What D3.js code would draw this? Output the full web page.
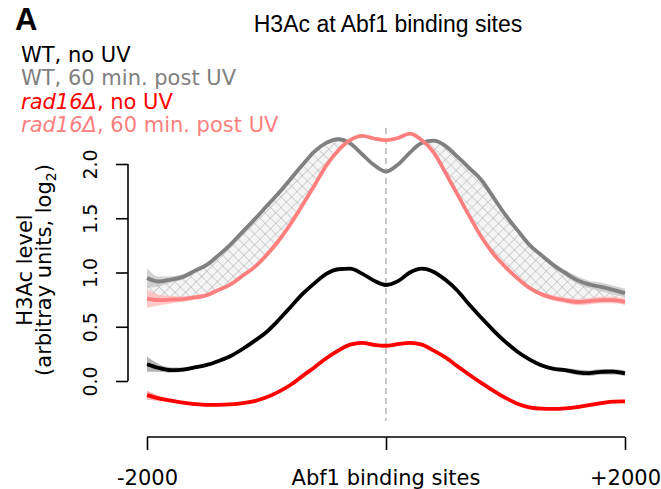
<!DOCTYPE html>
<html>
<head>
<meta charset="utf-8">
<script src="https://cdn.jsdelivr.net/npm/d3@7/dist/d3.min.js"></script>
<style>
  html, body { margin: 0; padding: 0; background: #fff; }
  svg { display: block; }
</style>
</head>
<body>
<svg id="chart" width="661" height="489"></svg>
<script>
// ---- data ----
const positions = [-2000,-1900,-1800,-1700,-1600,-1500,-1400,-1300,-1200,-1100,-1000,-900,-800,-700,-600,-500,-400,-300,-200,-100,0,100,200,300,400,500,600,700,800,900,1000,1100,1200,1300,1400,1500,1600,1700,1800,1900,2000];

const wtNoUV = [0.155,0.12,0.10,0.105,0.125,0.148,0.185,0.23,0.295,0.37,0.452,0.56,0.68,0.80,0.90,0.987,1.03,1.035,0.99,0.925,0.885,0.92,1.00,1.035,1.005,0.93,0.83,0.70,0.58,0.465,0.36,0.27,0.20,0.145,0.113,0.10,0.08,0.072,0.085,0.086,0.07];
const wtUV = [0.95,0.917,0.935,0.96,1.015,1.07,1.16,1.26,1.375,1.49,1.61,1.73,1.86,1.99,2.115,2.195,2.228,2.19,2.09,1.99,1.93,1.995,2.105,2.195,2.215,2.165,2.065,1.96,1.85,1.69,1.53,1.39,1.255,1.16,1.07,0.996,0.93,0.89,0.867,0.84,0.81];
const radNoUV = [-0.13,-0.16,-0.18,-0.20,-0.213,-0.22,-0.22,-0.216,-0.205,-0.185,-0.15,-0.10,-0.037,0.045,0.125,0.21,0.28,0.335,0.352,0.333,0.325,0.34,0.352,0.335,0.28,0.215,0.135,0.055,-0.02,-0.09,-0.155,-0.21,-0.243,-0.255,-0.257,-0.252,-0.24,-0.222,-0.205,-0.19,-0.188];
const radUV = [0.76,0.746,0.75,0.755,0.77,0.79,0.84,0.89,0.97,1.05,1.16,1.29,1.445,1.62,1.80,1.985,2.125,2.22,2.26,2.235,2.22,2.24,2.28,2.22,2.105,1.915,1.715,1.515,1.325,1.17,1.05,0.946,0.858,0.80,0.765,0.744,0.728,0.735,0.746,0.746,0.73];

// half-widths of the confidence bands
const wtNoUVErr = [0.07,0.035,0.025,0.02,0.015,0.015,0.015,0.015,0.015,0.015,0.015,0.015,0.015,0.015,0.015,0.015,0.015,0.015,0.015,0.015,0.015,0.015,0.015,0.015,0.015,0.015,0.015,0.015,0.015,0.015,0.015,0.015,0.015,0.018,0.02,0.02,0.025,0.025,0.025,0.025,0.025];
const wtUVErr = [0.09,0.045,0.03,0.025,0.02,0.02,0.018,0.015,0.015,0.015,0.015,0.015,0.015,0.015,0.015,0.015,0.015,0.015,0.015,0.015,0.015,0.015,0.015,0.015,0.015,0.015,0.015,0.015,0.015,0.015,0.015,0.018,0.02,0.02,0.025,0.03,0.035,0.035,0.04,0.04,0.04];
const radNoUVErr = [0.04,0.025,0.015,0.012,0.012,0.012,0.012,0.012,0.012,0.012,0.012,0.012,0.012,0.012,0.012,0.012,0.012,0.012,0.012,0.012,0.012,0.012,0.012,0.012,0.012,0.012,0.012,0.012,0.012,0.012,0.012,0.012,0.012,0.012,0.012,0.012,0.015,0.015,0.015,0.015,0.015];
const radUVErr = [0.085,0.05,0.035,0.025,0.02,0.018,0.015,0.015,0.015,0.015,0.015,0.015,0.015,0.015,0.015,0.015,0.015,0.015,0.015,0.015,0.015,0.015,0.015,0.015,0.015,0.015,0.015,0.015,0.015,0.015,0.015,0.015,0.018,0.02,0.025,0.025,0.03,0.03,0.03,0.03,0.03];

const seriesNames = ["WT, no UV", "WT, 60 min. post UV", "rad16\u0394, no UV", "rad16\u0394, 60 min. post UV"];
const seriesColors = ["#000000", "#808080", "#ff0000", "#ff7f7f"];
const bandColors = ["#9a9a9a", "#c4c4c4", "#ff9a9a", "#ffb8b8"];
const yTicks = [0, 0.5, 1.0, 1.5, 2.0];
const xTickValues = [-2000, 0, 2000];
const xTickLabels = ["-2000", "", "+2000"];

// ---- chart ----
const svg = d3.select("#chart");
const x = d3.scaleLinear().domain([-2000, 2000]).range([147, 625]);
const y = d3.scaleLinear().domain([0, 2]).range([381, 164]);

const defs = svg.append("defs");
const pat = defs.append("pattern")
  .attr("id", "hatch").attr("patternUnits", "userSpaceOnUse")
  .attr("width", 7.5).attr("height", 7.5)
  .attr("patternTransform", "rotate(45)");
pat.append("rect").attr("width", 7.5).attr("height", 7.5).attr("fill", "#f4f4f4");
pat.append("line").attr("x1", 0).attr("y1", 0).attr("x2", 0).attr("y2", 7.5).attr("stroke", "#9c9c9c").attr("stroke-width", 0.8);
pat.append("line").attr("x1", 0).attr("y1", 0).attr("x2", 7.5).attr("y2", 0).attr("stroke", "#9c9c9c").attr("stroke-width", 0.8);

// hatched region where WT post UV > rad16 post UV
const hatchData = positions.map((p, i) => ({p, lo: radUV[i], hi: Math.max(wtUV[i], radUV[i])}));
svg.append("path")
  .datum(hatchData)
  .attr("d", d3.area().x(d => x(d.p)).y0(d => y(d.lo)).y1(d => y(d.hi)).curve(d3.curveMonotoneX))
  .attr("fill", "url(#hatch)");

// dashed center line
svg.append("line")
  .attr("x1", x(0)).attr("x2", x(0))
  .attr("y1", 128).attr("y2", 421)
  .attr("stroke", "#bbbbbb").attr("stroke-width", 1.6)
  .attr("stroke-dasharray", "6,4");

const series = [
  {vals: wtNoUV, err: wtNoUVErr},
  {vals: wtUV, err: wtUVErr},
  {vals: radNoUV, err: radNoUVErr},
  {vals: radUV, err: radUVErr}
];

series.forEach((s, k) => {
  const d = positions.map((p, i) => ({p, v: s.vals[i], e: s.err[i]}));
  svg.append("path").datum(d)
    .attr("d", d3.area().x(q => x(q.p)).y0(q => y(q.v - q.e)).y1(q => y(q.v + q.e)).curve(d3.curveMonotoneX))
    .attr("fill", bandColors[k]).attr("opacity", 0.75);
});
series.forEach((s, k) => {
  const d = positions.map((p, i) => ({p, v: s.vals[i]}));
  svg.append("path").datum(d)
    .attr("d", d3.line().x(q => x(q.p)).y(q => y(q.v)).curve(d3.curveMonotoneX))
    .attr("fill", "none").attr("stroke", seriesColors[k])
    .attr("stroke-width", 3.8).attr("stroke-linejoin", "round").attr("stroke-linecap", "butt");
});

// y axis
const yAxis = svg.append("g").attr("transform", "translate(128,0)")
  .call(d3.axisLeft(y).tickValues(yTicks).tickSize(12).tickFormat(d3.format(".1f")));
yAxis.select(".domain").attr("stroke-width", 1.6).attr("d", `M0,${y(2)}V${y(0)}`);
yAxis.selectAll(".tick line").attr("stroke-width", 1.6);
yAxis.selectAll(".tick text")
  .attr("x", null).attr("dy", null)
  .attr("transform", "translate(-31,0) rotate(-90)")
  .attr("text-anchor", "middle")
  .attr("font-family", "DejaVu Sans").attr("font-size", 19).attr("fill", "#000");

// x axis
const xAxis = svg.append("g").attr("transform", "translate(0,437)")
  .call(d3.axisBottom(x).tickValues(xTickValues).tickSize(13).tickFormat((d, i) => xTickLabels[i]));
xAxis.select(".domain").attr("d", `M${x(-2000)},0H${x(2000)}`).attr("stroke-width", 1.6);
xAxis.selectAll(".tick line").attr("stroke-width", 1.6);
xAxis.selectAll(".tick text")
  .attr("y", 48).attr("dy", null)
  .attr("font-family", "DejaVu Sans").attr("font-size", 21).attr("fill", "#000");

svg.append("text").attr("x", x(0)).attr("y", 485)
  .attr("text-anchor", "middle").attr("font-family", "DejaVu Sans").attr("font-size", 21)
  .text("Abf1 binding sites");

// y title
const yt = svg.append("g").attr("transform", "translate(0,270)");
yt.append("text").attr("transform", "translate(32,0) rotate(-90)")
  .attr("text-anchor", "middle").attr("font-family", "DejaVu Sans").attr("font-size", 21)
  .text("H3Ac level");
const yt2 = yt.append("text").attr("transform", "translate(51,0) rotate(-90)")
  .attr("text-anchor", "middle").attr("font-family", "DejaVu Sans").attr("font-size", 21);
yt2.append("tspan").text("(arbitray units, log");
yt2.append("tspan").attr("font-size", 14).attr("dy", 5).text("2");
yt2.append("tspan").attr("dy", -5).text(")");

// title and panel letter
svg.append("text").attr("x", 15).attr("y", 30)
  .attr("font-family", "Liberation Sans").attr("font-weight", "bold").attr("font-size", 31)
  .text("A");
svg.append("text").attr("x", 388).attr("y", 32)
  .attr("text-anchor", "middle").attr("font-family", "Liberation Sans").attr("font-size", 23)
  .text("H3Ac at Abf1 binding sites");

// legend
const legendY = [62, 85, 108.5, 131.5];
seriesNames.forEach((name, k) => {
  const t = svg.append("text").attr("x", 21).attr("y", legendY[k])
    .attr("font-family", "DejaVu Sans").attr("font-size", 21).attr("fill", seriesColors[k]);
  if (name.startsWith("rad16")) {
    const cut = name.indexOf(",");
    t.append("tspan").attr("font-style", "italic").text(name.slice(0, cut));
    t.append("tspan").text(name.slice(cut));
  } else {
    t.text(name);
  }
});
</script>
</body>
</html>
